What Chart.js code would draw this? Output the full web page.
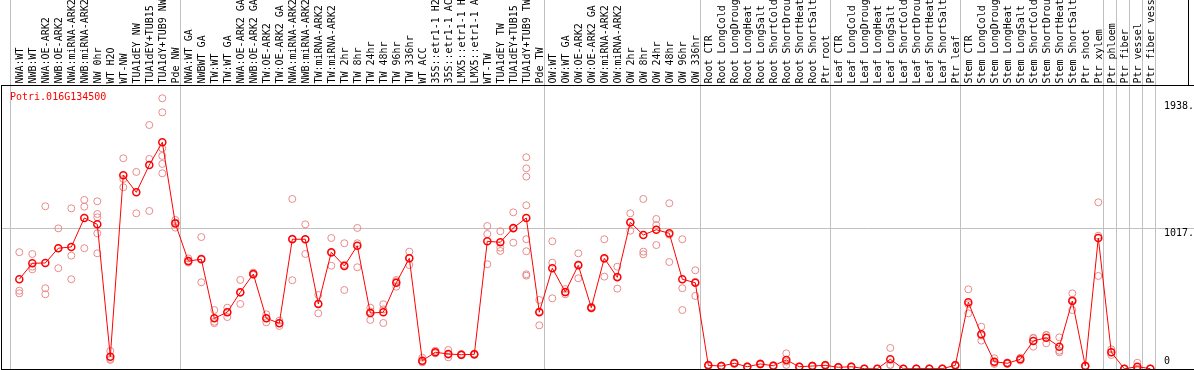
<!DOCTYPE html>
<html><head><meta charset="utf-8">
<script src="https://cdn.jsdelivr.net/npm/chart.js@4.4.0/dist/chart.umd.min.js"></script>
<style>html,body{margin:0;padding:0;background:#fff;overflow:hidden}canvas{display:block}</style>
</head><body>
<canvas id="c" width="1194" height="370" style="width:1194px;height:370px"></canvas>
<script>
const geneName = 'Potri.016G134500';

const categories = [
'NWA:WT','NWB:WT','NWA:OE-ARK2','NWB:OE-ARK2','NWA:miRNA-ARK2','NWB:miRNA-ARK2','NW 0hr','WT H2O','WT-NW','TUA1dEY NW','TUA1dEY+TUB15 NW','TUA1dY+TUB9 NW','Pde NW',
'NWA:WT GA','NWBWT GA','TW:WT','TW:WT GA','NWA:OE-ARK2 GA','NWB:OE-ARK2 GA','TW:OE-ARK2','TW:OE-ARK2 GA','NWA:miRNA-ARK2','NWB:miRNA-ARK2','TW:miRNA-ARK2','TW:miRNA-ARK2','TW 2hr','TW 8hr','TW 24hr','TW 48hr','TW 96hr','TW 336hr','WT ACC','35S::etr1-1 H2O','35S::etr1-1 ACC','LMX5::etr1-1 H2O','LMX5::etr1-1 ACC','WT-TW','TUA1dEY TW','TUA1dEY+TUB15 TW','TUA1dY+TUB9 TW','Pde TW',
'OW:WT','OW:WT GA','OW:OE-ARK2','OW:OE-ARK2 GA','OW:miRNA-ARK2','OW:miRNA-ARK2','OW 2hr','OW 8hr','OW 24hr','OW 48hr','OW 96hr','OW 336hr',
'Root CTR','Root LongCold','Root LongDrought','Root LongHeat','Root LongSalt','Root ShortCold','Root ShortDrought','Root ShortHeat','Root ShortSalt','Ptr root',
'Leaf CTR','Leaf LongCold','Leaf LongDrought','Leaf LongHeat','Leaf LongSalt','Leaf ShortCold','Leaf ShortDrought','Leaf ShortHeat','Leaf ShortSalt','Ptr leaf',
'Stem CTR','Stem LongCold','Stem LongDrought','Stem LongHeat','Stem LongSalt','Stem ShortCold','Stem ShortDrought','Stem ShortHeat','Stem ShortSalt','Ptr shoot','Ptr xylem','Ptr phloem','Ptr fiber','Ptr vessel','Ptr fiber vessel'
];

const means = [
649, 765, 767, 874, 883, 1093, 1047, 88, 1403, 1279, 1477, 1642, 1054,
781, 794, 366, 410, 555, 687, 366, 330, 939, 939, 470, 845, 745, 892, 404, 410, 624, 801, 59, 120, 107, 102, 105, 924, 917, 1021, 1093, 410,
729, 557, 750, 443, 801, 663, 1062, 970, 1008, 982, 649, 624,
25, 20, 40, 15, 35, 22, 64, 15, 20, 25,
11, 15, 1, 0, 69, 0, 1, 1, 1, 25,
482, 250, 51, 40, 69, 202, 225, 160, 491, 20, 948, 120, 0, 15, 1
];

const replicates = [
[845,566,547],[832,740,721],[1178,584,540],[1018,729,874],[1163,820,649],[1224,1175,874],[1214,1122,1098,982,837],[129,64,71],[1526,1376,1316],[1427,1127],[1767,1521,1144],[1961,1859,1598,1543,1485,1417],[1079,1023,1060],
[800,770,773],[955,627,800],[426,341,331],[443,375,412],[644,470,551],[697,680,684],[395,337,366],[349,310,331],[1231,642,944],[1047,832,938],[535,402,473],[948,747,840],[910,571,754],[1021,910,736],[443,354,415],[468,332,430],[644,595,633],[849,752,802],[80,51,46],[131,112,117],[136,83,102],[102,97,107],[105,100,110],[1035,977,758],[997,878,854],[1134,914,1015],[1533,1453,1393,1185,939,852,685,675],[499,315,416],
[924,769,511],[578,540,553],[837,656,757],[450,436,443],[939,668,796],[740,581,668],[1127,1001,1058],[1231,849,830],[1086,1042,897],[1200,774,972],[939,584,426],[714,528,630],
[30,20,25],[24,16,20],[46,36,38],[18,12,15],[40,30,35],[26,18,22],[112,28,52],[18,12,15],[24,16,20],[30,20,25],
[14,8,11],[18,12,15],[2,0,1],[0,0,0],[151,28,28],[0,0,0],[2,0,1],[2,0,1],[2,0,1],[30,20,25],
[576,402,468],[305,204,241],[76,35,42],[46,36,38],[80,60,67],[225,160,221],[245,185,245],[228,131,120],[547,426,500],[24,16,20],[1207,673,964],[141,100,119],[0,0,0],[44,1,0],[2,0,1]
];

// group separators (between categories)
const groupBoundaries = [-0.715, 12.385, 40.385, 52.385, 62.385, 72.385, 83.385, 84.385, 85.385, 86.385, 87.385];
const yTickValues = [0, 1017, 1938];
const yTickLabels = [['0', '', ''], '1017.', '1938.'];

const X_MIN = -1.408, X_MAX = 87.438, Y_MIN = -1.5, Y_MAX = 2057;
const HEADER_H = 85, YLABEL_W = 38;
const FONT = { family: 'DejaVu Sans Mono', size: 10 };
const GRID = '#c0c0c0';
const NONE = 'rgba(0,0,0,0)';

const meanPoints = means.map((v, i) => ({ x: i, y: v }));
const repPoints = [];
replicates.forEach((arr, i) => arr.forEach(v => repPoints.push({ x: i, y: v })));

const decor = {
  id: 'decor',
  afterDraw(chart) {
    const ctx = chart.ctx;
    ctx.save();
    ctx.font = '10px "DejaVu Sans Mono"';
    ctx.fillStyle = '#ff0000';
    ctx.textBaseline = 'middle';
    ctx.textAlign = 'left';
    ctx.fillText(geneName, 10, 97);
    ctx.strokeStyle = '#000';
    ctx.lineWidth = 1;
    ctx.beginPath();
    ctx.moveTo(1188.5, 0); ctx.lineTo(1188.5, HEADER_H);
    ctx.stroke();
    ctx.restore();
  }
};

const noPad = s => { s.paddingLeft = 0; s.paddingRight = 0; s.paddingTop = 0; s.paddingBottom = 0; };

new Chart(document.getElementById('c'), {
  type: 'scatter',
  data: {
    datasets: [
      { label: 'mean', data: meanPoints, showLine: true, borderColor: '#ff0000', borderWidth: 1,
        pointRadius: 3.5, pointBorderWidth: 1.5, pointBorderColor: '#ff0000', pointBackgroundColor: NONE,
        tension: 0, order: 0, xAxisID: 'x', yAxisID: 'y' },
      { label: 'replicates', data: repPoints, showLine: false,
        pointRadius: 3.5, pointBorderWidth: 1, pointBorderColor: '#e98a8a', pointBackgroundColor: NONE,
        order: 1, xAxisID: 'x', yAxisID: 'y' }
    ]
  },
  options: {
    responsive: false,
    animation: false,
    layout: { autoPadding: false, padding: { left: 1, right: 0, top: 0, bottom: 1 } },
    plugins: { legend: { display: false }, tooltip: { enabled: false } },
    scales: {
      x: {
        type: 'linear', position: 'top', min: X_MIN, max: X_MAX, bounds: 'data',
        afterBuildTicks: s => {
          const t = categories.map((_, i) => ({ value: i })).concat(groupBoundaries.map(v => ({ value: v })));
          t.sort((a, b) => a.value - b.value);
          s.ticks = t;
        },
        afterFit: s => { s.height = HEADER_H; noPad(s); },
        ticks: { autoSkip: false, minRotation: 90, maxRotation: 90, padding: -83.5, labelOffset: 13, font: FONT, color: '#000',
          callback: v => Number.isInteger(v) ? categories[v] : '' },
        grid: { drawOnChartArea: true, drawTicks: true, tickLength: HEADER_H, lineWidth: 1,
          color: c => (c.tick && !Number.isInteger(c.tick.value)) ? GRID : NONE },
        border: { display: true, color: '#000', width: 1 }
      },
      xb: {
        type: 'linear', position: 'bottom', min: X_MIN, max: X_MAX,
        afterFit: s => { s.height = 0; noPad(s); },
        ticks: { display: false }, grid: { display: false, drawTicks: false },
        border: { display: true, color: '#000', width: 1 }
      },
      y: {
        type: 'linear', position: 'right', min: Y_MIN, max: Y_MAX,
        afterBuildTicks: s => {
          s.ticks = [{ value: Y_MIN }].concat(yTickValues.map(v => ({ value: v })), [{ value: Y_MAX }]);
        },
        afterFit: s => { s.width = YLABEL_W; noPad(s); },
        ticks: { font: FONT, color: '#000', align: 'start', padding: -30,
          callback: v => { const k = yTickValues.indexOf(v); return k >= 0 ? yTickLabels[k] : ''; } },
        grid: { drawOnChartArea: true, drawTicks: true, tickLength: YLABEL_W, lineWidth: 1,
          color: c => { if (!c.tick) return NONE; const v = c.tick.value; if (v === Y_MIN || v === Y_MAX) return '#000'; return v === 1017 ? GRID : NONE; } },
        border: { display: false }
      },
      yl: {
        type: 'linear', position: 'left', min: Y_MIN, max: Y_MAX,
        afterFit: s => { s.width = 0; noPad(s); },
        ticks: { display: false }, grid: { display: false, drawTicks: false },
        border: { display: true, color: '#000', width: 1 }
      }
    }
  },
  plugins: [decor]
});
</script>
</body></html>
